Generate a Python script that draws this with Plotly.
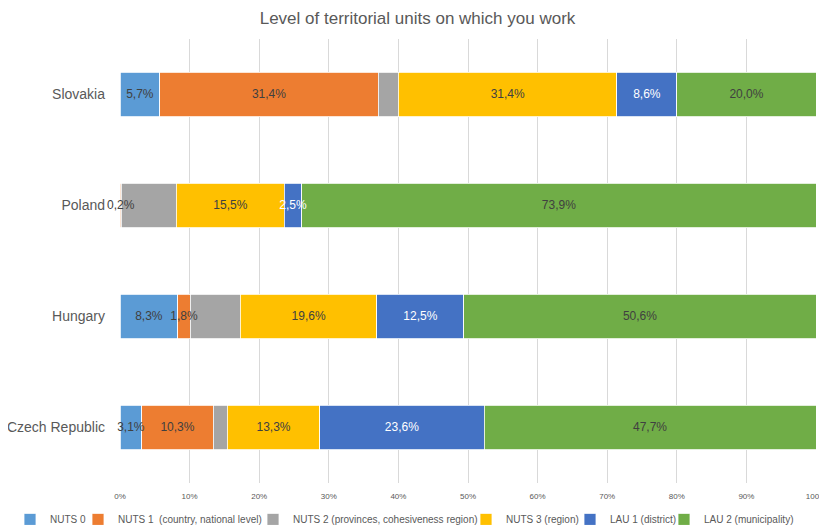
import plotly.graph_objects as go

countries = ["Czech Republic", "Hungary", "Poland", "Slovakia"]
series_names = [
    "NUTS 0",
    "NUTS 1  (country, national level)",
    "NUTS 2 (provinces, cohesiveness region)",
    "NUTS 3 (region)",
    "LAU 1 (district)",
    "LAU 2 (municipality)",
]
nuts0 = [3.1, 8.3, 0.0, 5.7]
nuts1 = [10.3, 1.8, 0.2, 31.4]
nuts2 = [2.0, 7.2, 7.9, 2.9]
nuts3 = [13.3, 19.6, 15.5, 31.4]
lau1 = [23.6, 12.5, 2.5, 8.6]
lau2 = [47.7, 50.6, 73.9, 20.0]
show_label = [True, True, False, True, True, True]

colors = ["#5B9BD5", "#ED7D31", "#A5A5A5", "#FFC000", "#4472C4", "#70AD47"]
label_colors = ["#404040", "#404040", "#404040", "#404040", "#FFFFFF", "#404040"]
all_series = [nuts0, nuts1, nuts2, nuts3, lau1, lau2]

FONT = "Liberation Sans"
FIG_W, FIG_H = 819, 517  # page has an 8px body margin
# legend entry left edges (container pixels), one legend box per series
legend_left_px = [2, 70, 245, 458, 562, 656]

def fmt(v):
    return ("%.1f%%" % v).replace(".", ",")

legend_ids = ["legend"] + ["legend%d" % i for i in range(2, 7)]

fig = go.Figure()
for name, vals, col, lid in zip(series_names, all_series, colors, legend_ids):
    fig.add_trace(go.Bar(
        y=countries, x=vals, name=name, orientation="h",
        marker=dict(color=col, line=dict(color="white", width=0.8)),
        legend=lid, hoverinfo="skip",
    ))

# data labels drawn on top of all bars (centred on each segment)
base = [0.0] * len(countries)
for vals, lcol, show in zip(all_series, label_colors, show_label):
    mids = [b + v / 2 for b, v in zip(base, vals)]
    texts = [fmt(v) if (show and v > 0) else "" for v in vals]
    fig.add_trace(go.Scatter(
        x=mids, y=countries, mode="text", text=texts,
        textposition="middle center", cliponaxis=False,
        textfont=dict(family=FONT, size=12, color=lcol),
        showlegend=False, hoverinfo="skip",
    ))
    base = [b + v for b, v in zip(base, vals)]

legend_layouts = {}
for lid, px in zip(legend_ids, legend_left_px):
    legend_layouts[lid] = dict(
        orientation="h", xref="container", x=px / FIG_W, xanchor="left",
        y=-0.082, yanchor="middle", bgcolor="rgba(0,0,0,0)",
        font=dict(family=FONT, size=10, color="#595959"),
        itemwidth=30,
    )

fig.update_layout(
    barmode="stack",
    bargap=0.595,
    width=FIG_W, height=FIG_H,
    paper_bgcolor="white", plot_bgcolor="white",
    margin=dict(l=112, r=11, t=31, b=42, autoexpand=False),
    title=dict(text="Level of territorial units on which you work",
               x=0.5, xanchor="center", y=0.981, yanchor="middle",
               font=dict(family=FONT, size=17, color="#595959")),
    font=dict(family=FONT, color="#595959"),
    xaxis=dict(range=[0, 100], tickvals=[0, 10, 20, 30, 40, 50, 60, 70, 80, 90, 100],
               ticktext=["0%", "10%", "20%", "30%", "40%", "50%", "60%", "70%", "80%", "90%", "100%"],
               showgrid=True, gridcolor="#D9D9D9", gridwidth=1, zeroline=False, automargin=False,
               tickfont=dict(family=FONT, size=8, color="#595959"), ticks="",
               ticklabelstandoff=7, fixedrange=True),
    yaxis=dict(showgrid=False, zeroline=False, ticks="", ticklabelstandoff=14, automargin=False,
               tickfont=dict(family=FONT, size=14, color="#595959")),
    showlegend=True,
    **legend_layouts,
)

fig.write_html("out.html")
